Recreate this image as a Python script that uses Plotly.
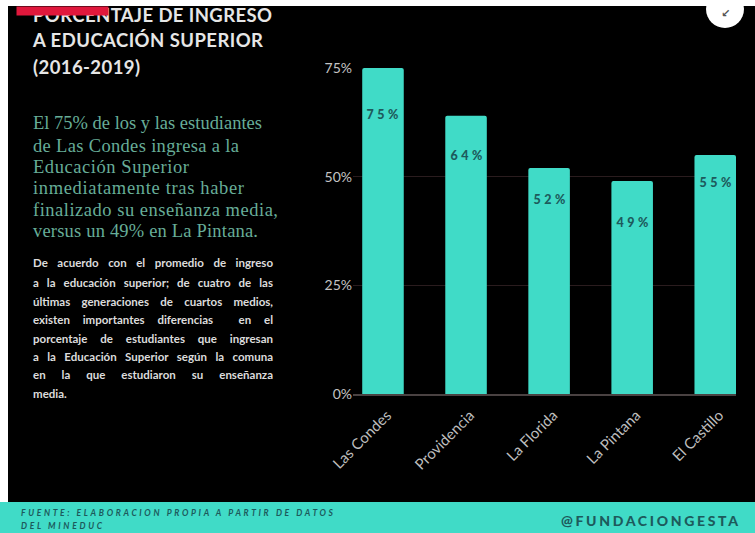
import json
import plotly.graph_objects as go

W, H = 755, 533
communes = ["Las Condes", "Providencia", "La Florida", "La Pintana", "El Castillo"]
values = [75, 64, 52, 49, 55]
y_ticks = [0, 25, 50, 75]
y_tick_labels = ["0%", "25%", "50%", "75%"]
label_drops = [46, 40, 32, 41, 28]

title_lines = ["PORCENTAJE DE INGRESO", "A EDUCACIÓN SUPERIOR", "(2016-2019)"]
lead_lines = ["El 75% de los y las estudiantes", "de Las Condes ingresa a la", "Educación Superior",
              "inmediatamente tras haber", "finalizado su enseñanza media,", "versus un 49% en La Pintana."]
body_lines = ["De acuerdo con el promedio de ingreso", "a la educación superior; de cuatro de las",
              "últimas generaciones de cuartos medios,", "existen importantes diferencias  en el",
              "porcentaje de estudiantes que ingresan", "a la Educación Superior según la comuna",
              "en la que estudiaron su enseñanza", "media."]
source_lines = ["FUENTE: ELABORACION PROPIA A PARTIR DE DATOS", "DEL MINEDUC"]
handle = "@FUNDACIONGESTA"

TEAL = "#40DBC7"
DARK = "#1d5a5c"
px = lambda v: v / W
py = lambda v: 1 - v / H

fig = go.Figure(go.Bar(
    x=communes, y=values, width=0.5,
    marker=dict(color=TEAL, line_width=0, cornerradius=2),
    hoverinfo="skip",
))

rects = [
    (0, 0, W, 6, "white"),
    (0, 0, 8, H, "white"),
    (0, 502, W, H, TEAL),
]
shapes = [dict(type="rect", xref="paper", yref="paper", x0=px(a), x1=px(c), y0=py(b), y1=py(d),
               fillcolor=col, line_width=0, layer="below") for a, b, c, d, col in rects]
shapes.append(dict(type="circle", xref="paper", yref="paper", x0=px(706), x1=px(744), y0=py(28), y1=py(-10),
                   fillcolor="white", line_width=0, layer="above"))

annotations = []
fit = {}

def note(text, x, y, size, color, family, weight=400, italic=False, target=None, mode="word", anchor="left"):
    annotations.append(dict(
        text=text, xref="paper", yref="paper", x=px(x), y=py(y), xanchor=anchor, yanchor="middle",
        showarrow=False, borderpad=0,
        font=dict(size=size, color=color, family=family, weight=weight, style="italic" if italic else "normal"),
    ))
    if target:
        fit[text] = dict(width=target, mode=mode, anchor=anchor)

for t, y, r in zip(title_lines, [15, 40, 67], [271, 262, 139]):
    note(t, 32, y, 18.5, "#e6e6e6", "Lato", 700, target=r - 32, mode="letter")
annotations.append(dict(text="\u00a0", xref="paper", yref="paper", x=px(16), y=py(6), xanchor="left", yanchor="top",
                        showarrow=False, width=91, height=8, bgcolor="#e0183c", borderpad=0, font=dict(size=6)))
for t, y, r in zip(lead_lines, [123, 146, 167, 188, 210, 231], [261, 238, 188, 243, 277, 257]):
    note(t, 32, y, 18.5, "#67ad98", "Liberation Serif", 400, target=r - 32, mode="letter")
for t, y in zip(body_lines, [263, 282, 301, 319, 338, 356, 374, 393]):
    note(t, 32, y, 11.5, "#dcdcdc", "Lato", 700, target=(70 if t == "media." else 272) - 32, mode="word")
note(source_lines[0], 20, 513, 8.5, DARK, "Lato", 700, italic=True, target=312, mode="letter")
note(source_lines[1], 20, 526, 8.5, DARK, "Lato", 700, italic=True, target=81, mode="letter")
note(handle, 560, 520, 14, DARK, "Lato", 900, target=177, mode="letter")
note("↙", 725, 13, 11, "#555555", "DejaVu Sans", 700, anchor="center")

for c, v, d in zip(communes, values, label_drops):
    txt = f"{v}%"
    annotations.append(dict(text=txt, x=c, y=v, xref="x", yref="y", yshift=-d, showarrow=False,
                            xanchor="center", yanchor="middle", borderpad=0,
                            font=dict(size=12.5, color=DARK, family="Lato", weight=900)))
    fit[txt] = dict(width=32, mode="letter", anchor="center")

fig.update_layout(
    width=W, height=H, autosize=False, showlegend=False,
    margin=dict(l=0, r=0, t=0, b=0, pad=0, autoexpand=False),
    paper_bgcolor="black", plot_bgcolor="rgba(0,0,0,0)",
    shapes=shapes, annotations=annotations,
    font=dict(family="Lato", color="#c8c8c8"),
    xaxis=dict(domain=[353 / W, 736 / W], range=[-0.361, 4.25], type="category",
               categoryorder="array", categoryarray=communes, tickangle=-45,
               ticklabelstandoff=5, ticklabelshift=4,
               tickfont=dict(size=15, color="#bdbdbd", family="Lato"), showgrid=False, ticks="",
               showline=True, linecolor="#4a4242", linewidth=1.5, zeroline=False, fixedrange=True),
    yaxis=dict(domain=[1 - 394 / H, 1 - 68 / H], range=[0, 75], tickvals=y_ticks, ticktext=y_tick_labels,
               tickfont=dict(size=14, color="#c4c4c4", family="Lato"), gridcolor="#2a1c1e", gridwidth=1,
               ticks="", showline=False, zeroline=False, fixedrange=True),
)

post = """
document.body.style.margin='0';
var fit=%s;
document.querySelectorAll('.annotation-text').forEach(function(el){
  var s=fit[el.textContent]; if(!s) return;
  var w=el.getComputedTextLength(), t=el.textContent, b=el.getBBox(), extra=s.width-w;
  if(s.mode==='letter'){ el.style.letterSpacing=(extra/(t.length-1))+'px'; }
  else { var n=(t.match(/ /g)||[]).length; if(n) el.style.wordSpacing=(extra/n)+'px'; }
  el.setAttribute('text-anchor','start');
  el.querySelectorAll('tspan').forEach(function(ts){ts.removeAttribute('x');});
  el.setAttribute('x', s.anchor==='center' ? b.x-extra/2 : b.x);
});
""" % json.dumps(fit, ensure_ascii=False)

fig.write_html("out.html", post_script=post, config=dict(displayModeBar=False))
